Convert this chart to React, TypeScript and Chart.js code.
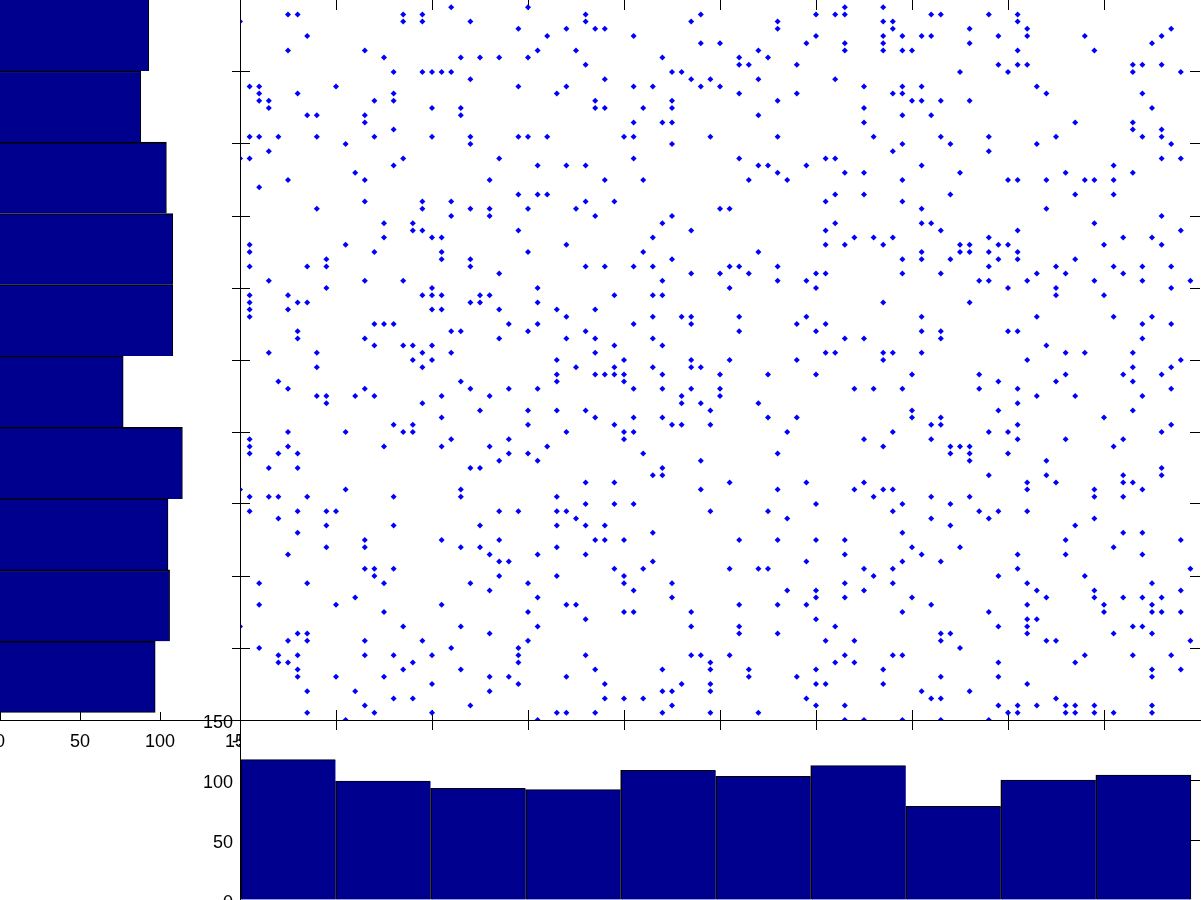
import React, { useEffect, useRef } from "react";
import { Chart, registerables } from "chart.js";

Chart.register(...registerables);

// Horizontal histogram (left), centres listed top to bottom
const leftBinCenters = [4.51, 3.52, 2.53, 1.54, 0.55, -0.44, -1.43, -2.42, -3.41, -4.4];
const leftCounts = [93, 88, 104, 108, 108, 77, 114, 105, 106, 97];

// Vertical histogram (bottom), centres listed left to right
const bottomBinCenters = [-4.5, -3.51, -2.52, -1.53, -0.54, 0.45, 1.44, 2.43, 3.42, 4.41];
const bottomCounts = [117, 99, 93, 92, 108, 103, 112, 78, 100, 104];

// Scatter samples lie on a 0.1 grid: entry i is y = 5 - i/10; numbers are x = (n - 50)/10
const scatterRows: number[][] = [
  [],
  [22,30,63,67],
  [5,6,17,19,36,48,60,62,63,72,73,78,81],
  [0,17,19,24,36,47,56,67,68,81],
  [29,34,37,38,56,68,76,82,97],
  [7,32,41,60,67,69,71,72,79,82,88,96],
  [48,50,59,63,67,76,95],
  [5,13,31,35,54,63,67,69,70,81,89],
  [15,23,25,27,30,44,52,55],
  [36,52,53,58,79,81,82,93,94,96],
  [16,19,20,21,22,45,46,75,80,93,98],
  [24,38,47,49,54,62],
  [1,2,10,29,34,41,43,48,50,65,69,71,83],
  [2,6,16,33,52,58,68,69,84,94],
  [2,3,14,16,37,45,56,70,71,73,76],
  [3,20,23,37,38,42,45,65,95],
  [7,8,13,23,54,69,72],
  [13,41,44,45,65,87,93],
  [16,93,96],
  [1,2,4,8,14,20,24,29,30,32,40,41,49,56,66,73,78,85,94,96],
  [11,24,45,69,74,83,97],
  [3,68,78],
  [0,1,17,27,41,52,61,62,96,98],
  [16,31,34,36,54,55,59,71,91],
  [12,56,63,65,75,86,93],
  [5,13,26,38,42,53,57,69,80,81,84,88,89,91],
  [2],
  [29,31,32,62,65,74,87,91],
  [13,19,22,36,39,61,69],
  [8,19,24,26,30,35,50,51,71,84],
  [22,26,37,45,96],
  [15,18,44,62,71,72,89],
  [18,19,29,47,61,73,81,98],
  [15,20,21,43,64,66,68,78,92,95],
  [1,11,34,61,63,67,75,76,79,80,90,96],
  [1,14,21,30,42,54,71,75,76,78,81],
  [9,21,24,45,69,71,74,79,81,87],
  [1,7,9,24,36,38,41,43,51,52,56,78,85,91,94,97],
  [27,47,50,53,60,61,69,73,83,86,92],
  [3,13,17,44,56,59,77,78,82,89,94,99],
  [9,20,31,51,60,80,85,97],
  [1,5,19,20,21,25,26,39,43,44,85,90],
  [1,6,7,24,25,31,67,76],
  [1,5,20,21,27,33,37],
  [1,34,43,46,47,52,59,71,83,91,95],
  [14,15,16,28,31,41,47,58,61,94,97],
  [6,22,23,30,36,52,60,71,73,80,81],
  [6,13,27,34,37,43,63,65,73,94],
  [14,17,18,20,39,44,84],
  [3,8,19,22,37,61,62,67,68,71,86,88,93],
  [18,20,33,40,47,51,58,67,82,98],
  [8,19,35,39,43,47,48,93,97],
  [33,37,38,39,40,44,50,55,60,70,77,86,92,96],
  [4,23,33,40,79,85,93],
  [5,13,24,28,31,41,44,47,50,64,66,69,77,81,97],
  [8,9,12,14,21,26,46,50,83,87,94],
  [9,19,46,48,54,81],
  [25,30,33,36,49,70,79,93],
  [21,37,41,44,55,58,70,73,90],
  [16,18,30,39,45,46,49,72,73,81,97],
  [5,11,17,18,34,40,41,57,68,78,80,96],
  [1,22,28,40,65,72,81,86,92],
  [1,5,15,21,26,32,67,74,75,76,91],
  [1,4,6,28,30,42,56,74,76,80],
  [27,31,48,76,84],
  [3,6,24,25,44,96],
  [43,44,78,84,92,96],
  [36,39,51,59,65,82,85,92,93],
  [0,11,23,48,56,64,67,68,82,89,94],
  [1,3,4,7,16,23,33,66,72,76,89,92],
  [36,39,41,60,69,74],
  [1,6,9,10,27,29,33,34,49,55,68,77,79,82],
  [4,35,57,72,78,89],
  [9,16,25,33,36,38,74,87],
  [6,43,69,92,94],
  [13,21,27,37,38,40,52,56,60,63,86,98],
  [9,13,23,25,33,70,75,91],
  [5,26,31,36,63,71,81,86,94],
  [27,28,43,59,69,73],
  [13,14,16,39,42,51,54,55,65,68,81,99],
  [14,27,33,40,66,79,88],
  [2,7,15,24,30,40,45,63,68,82,95],
  [26,41,57,60,65,83,89,98],
  [12,31,45,60,63,70,84,89,92,94,96],
  [2,10,21,34,35,52,56,59,72,82,90,95],
  [15,30,40,41,47,69,78,90,95,96,98],
  [36,60,82,83],
  [0,17,23,31,47,52,62,79,82,93,94],
  [6,7,26,52,56,73,74,82,91,95],
  [5,7,13,19,30,61,64,73,84,85,99],
  [2,22,29,75],
  [4,6,13,16,20,29,36,47,48,51,63,68,69,88,93,97],
  [4,5,18,29,49,62,64,79,87],
  [6,17,23,37,44,49,53,60,67,95,98],
  [6,10,15,26,28,34,53,58,73,79,95],
  [20,29,38,46,49,60,61,67,82],
  [7,12,26,44,45,49,71,76],
  [16,18,38,40,42,59,72,73,85],
  [13,24,45,60,63,79,81,83,86,87,89,95],
  [7,14,20,33,34,37,44,49,54,80,81,86,87,89,91,95],
  [11,31,63,65,69,73,78],
];

const W = 1201;
const H = 900;
const NAVY = "#00008f";
const EDGE = 1.6;
const font = { family: '"Liberation Sans", Arial, sans-serif', size: 18 };

const whitePlot = (extendRight: boolean) => ({
  id: "whitePlot",
  beforeDraw(chart: any) {
    const a = chart.chartArea;
    chart.ctx.save();
    chart.ctx.fillStyle = "#fff";
    chart.ctx.fillRect(a.left, a.top, (extendRight ? W : a.right) - a.left, a.bottom - a.top);
    chart.ctx.restore();
  },
});

function axis(position: string, min: number, max: number, step: number, opts: any = {}) {
  const { tick = 10, line = true, labels = false, padding = 0, callback, dropMax = false, box = 0, labelOffset = 0 } = opts;
  return {
    type: "linear",
    position,
    min,
    max,
    offset: false,
    afterFit: (scale: any) => {
      if (scale.isHorizontal()) scale.height = box;
      else scale.width = box;
      scale.paddingLeft = scale.paddingRight = scale.paddingTop = scale.paddingBottom = 0;
    },
    afterBuildTicks: dropMax
      ? (s: any) => { s.ticks = s.ticks.filter((t: any) => t.value < max); }
      : undefined,
    border: { display: line, color: "#000", width: 1 },
    grid: {
      offset: false,
      drawOnChartArea: false,
      drawTicks: tick !== 0,
      tickLength: -tick,
      color: "#000",
      tickColor: "#000",
      tickWidth: 1,
    },
    ticks: {
      display: labels,
      stepSize: step,
      autoSkip: false,
      maxRotation: 0,
      minRotation: 0,
      color: "#000",
      font,
      padding,
      labelOffset,
      callback: callback ?? ((v: any) => String(v)),
    },
  };
}

const base = {
  responsive: false,
  animation: false,
  events: [],
  plugins: { legend: { display: false }, tooltip: { enabled: false }, title: { display: false } },
};

export default function App() {
  const scatterRef = useRef<HTMLCanvasElement>(null);
  const leftRef = useRef<HTMLCanvasElement>(null);
  const bottomRef = useRef<HTMLCanvasElement>(null);

  useEffect(() => {
    const scatterData = scatterRows.flatMap((cols, r) =>
      cols.map((c) => ({ x: (c - 50) / 10, y: (50 - r) / 10 }))
    );

    const scatter = new Chart(scatterRef.current as any, {
      type: "scatter",
      data: {
        datasets: [{
          data: scatterData,
          pointStyle: "rectRot",
          pointRadius: 3,
          pointBorderWidth: 0,
          pointBackgroundColor: "#0000ff",
          showLine: false,
          clip: false,
        }],
      },
      options: {
        ...base,
        layout: { autoPadding: false, padding: { left: 240, right: W - 1200, top: 0, bottom: H - 720 - 60 } },
        scales: {
          x: axis("bottom", -5, 5, 1, {
            labels: true,
            padding: 21,
            dropMax: true,
            box: 60,
            callback: (v: any) => (v === -5 ? "-5" : ""),
          }),
          x2: axis("top", -5, 5, 1, { line: false, dropMax: true }),
          y: axis("left", -5, 5, 1, { dropMax: true }),
          y2: axis("right", -5, 5, 1, { line: false, dropMax: true }),
        },
      } as any,
    } as any);

    const lastLeft = leftCounts.length - 1;
    const left = new Chart(leftRef.current as any, {
      type: "bar",
      data: {
        datasets: [{
          data: leftCounts.map((v, i) => ({ x: v, y: leftBinCenters[i] })),
          base: -10,
          backgroundColor: NAVY,
          borderColor: "#000",
          borderSkipped: false,
          borderWidth: (c: any) => ({
            top: c.dataIndex === 0 ? 0 : EDGE,
            right: 1,
            left: 0,
            bottom: c.dataIndex === lastLeft ? 1 : 0,
          }),
          barPercentage: 1,
          categoryPercentage: 1,
        }],
      },
      options: {
        ...base,
        indexAxis: "y",
        layout: { autoPadding: false, padding: { left: 0, right: W - 240, top: 0, bottom: H - 720 - 60 } },
        scales: {
          x: axis("bottom", 0, 150, 50, { tick: 8, labels: true, padding: 19, box: 60 }),
          y: axis("right", -5, 5, 1, { tick: 8, line: true, dropMax: true }),
        },
      } as any,
      plugins: [whitePlot(false)],
    } as any);

    const lastBottom = bottomCounts.length - 1;
    const bottom = new Chart(bottomRef.current as any, {
      type: "bar",
      data: {
        datasets: [{
          data: bottomCounts.map((v, i) => ({ x: bottomBinCenters[i], y: v })),
          backgroundColor: NAVY,
          borderColor: "#000",
          borderSkipped: false,
          borderWidth: (c: any) => ({ top: 1, left: EDGE, bottom: 0, right: c.dataIndex === lastBottom ? 1 : 0 }),
          barPercentage: 1,
          categoryPercentage: 1,
        }],
      },
      options: {
        ...base,
        layout: { autoPadding: false, padding: { left: 0, right: W - 1200, top: 720, bottom: 0 } },
        scales: {
          x: axis("top", -5, 5, 1, { dropMax: true }),
          y: axis("left", 0, 150, 50, { tick: 0, labels: true, padding: 7, box: 240, labelOffset: 3 }),
          y2: axis("right", 0, 150, 50, { line: false }),
        },
      } as any,
      plugins: [whitePlot(true)],
    } as any);

    return () => {
      scatter.destroy();
      left.destroy();
      bottom.destroy();
    };
  }, []);

  const layer: React.CSSProperties = { position: "absolute", left: 0, top: 0, display: "block" };
  return (
    <div style={{ position: "fixed", left: 0, top: 0, width: W, height: H, background: "#fff", overflow: "hidden" }}>
      <canvas ref={scatterRef} width={W} height={H} style={layer} />
      <canvas ref={leftRef} width={W} height={H} style={layer} />
      <canvas ref={bottomRef} width={W} height={H} style={layer} />
    </div>
  );
}
